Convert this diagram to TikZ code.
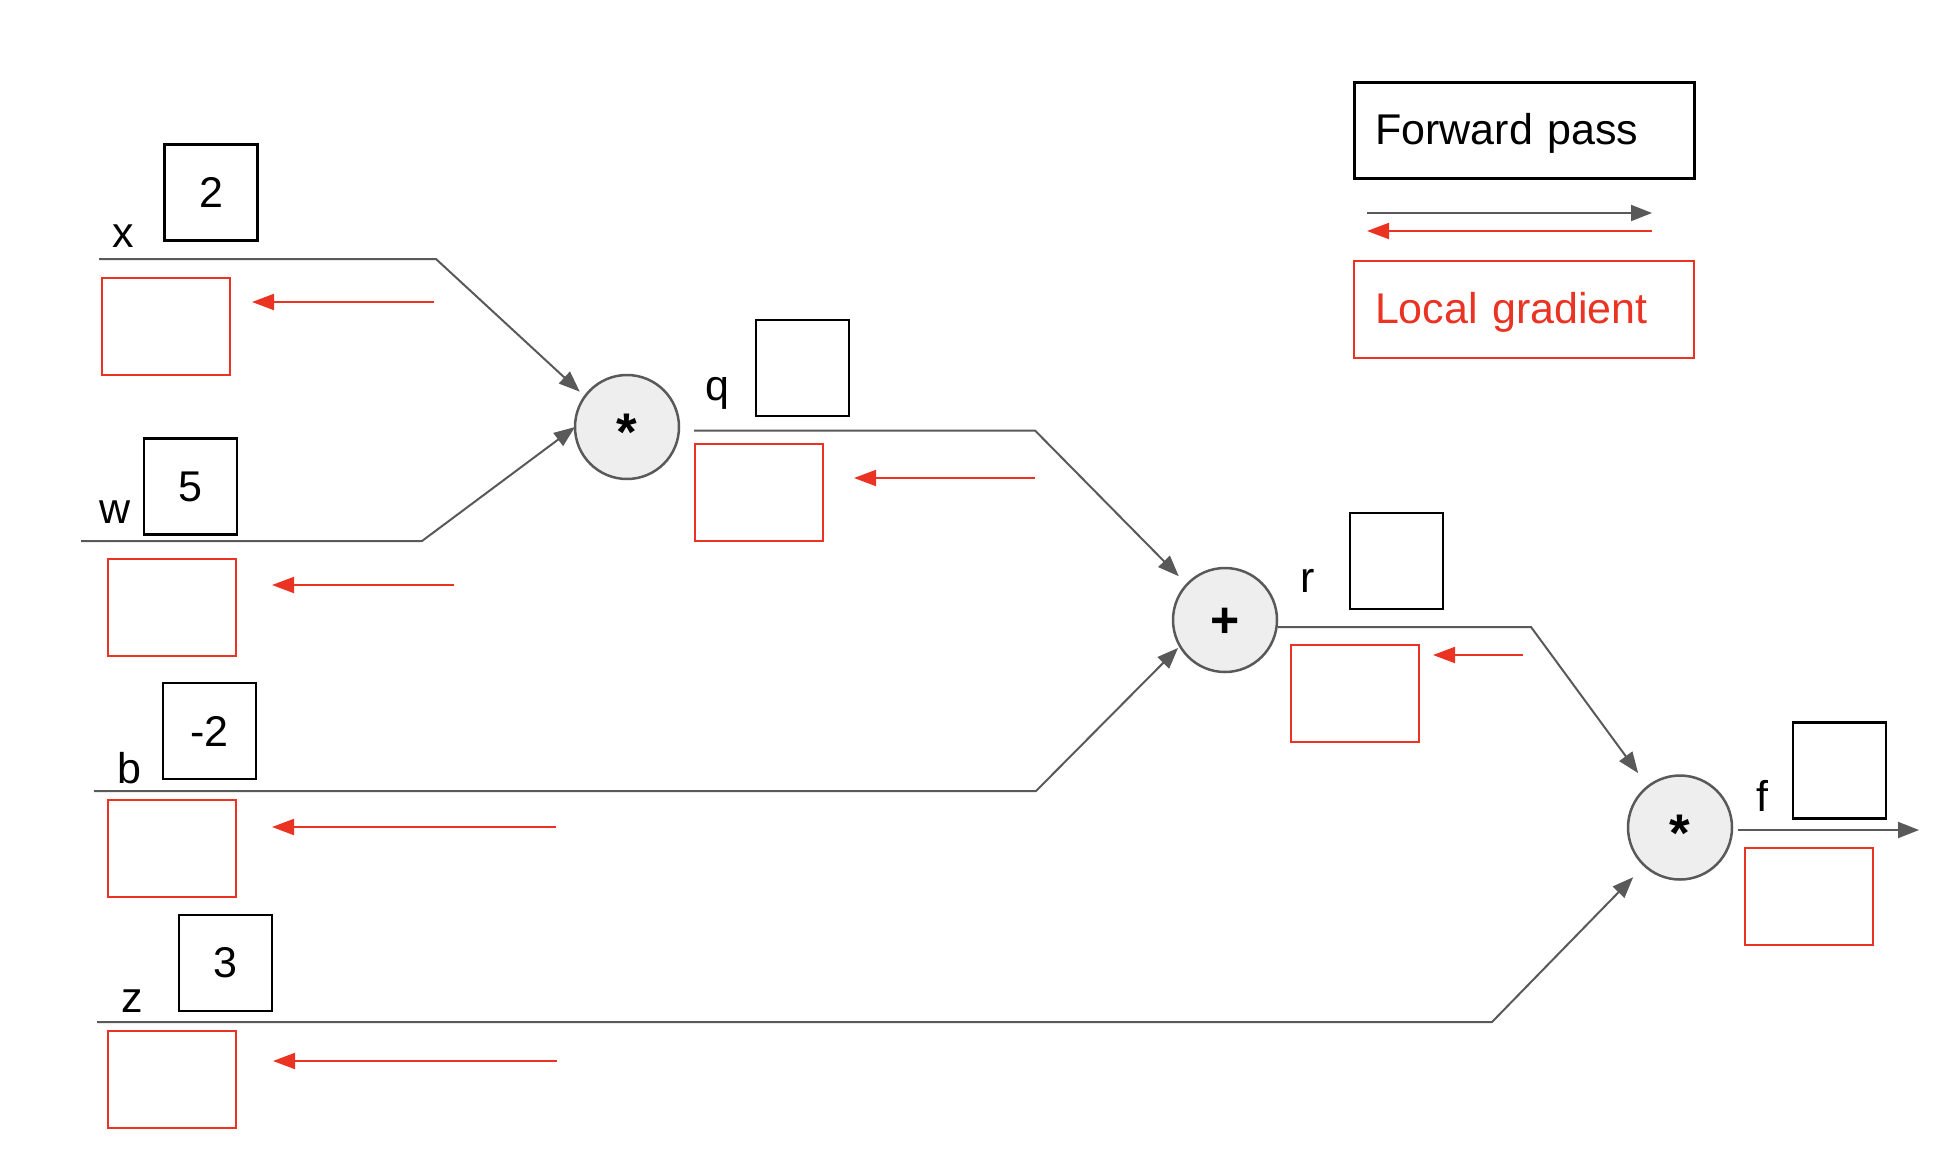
\documentclass[tikz,border=0pt]{standalone}
\usepackage{fontspec}
\setmainfont{Liberation Sans}
\usetikzlibrary{arrows.meta}
\definecolor{fwdgray}{HTML}{595959}
\definecolor{gred}{HTML}{EA3323}
\definecolor{opfill}{HTML}{EEEEEE}
\begin{document}
\begin{tikzpicture}[x=1pt,y=-1pt,
  font=\fontsize{43}{50}\selectfont,
  valbox/.style={draw=black, line width=2.5pt, minimum width=93pt, minimum height=96pt, inner sep=0pt},
  gradbox/.style={draw=gred, line width=2pt, minimum width=128pt, minimum height=97pt, inner sep=0pt},
  opnode/.style={circle, draw=fwdgray, fill=opfill, line width=2.5pt, minimum size=104pt, inner sep=0pt, outer sep=0pt},
  fwdline/.style={draw=fwdgray, line width=2pt, line join=miter, -{Triangle[length=21pt,width=16pt]}},
  gradarrow/.style={draw=gred, line width=2pt, -{Triangle[length=22pt,width=16pt]}},
  varlabel/.style={anchor=base, inner sep=0pt},
  legbox/.style={line width=2.5pt, minimum width=340pt, minimum height=96pt, text width=298pt, align=left, inner xsep=21pt, inner ysep=0pt, text height=36pt, text depth=8pt, anchor=north west}
]
\useasboundingbox (0,0) rectangle (1946,1152);

% operator nodes
\node[opnode, text height=47pt, text depth=0pt, font=\fontsize{53}{56}\selectfont\bfseries] (m1) at (627,427) {*};
\node[opnode, text height=35pt, text depth=0pt, font=\fontsize{50}{50}\selectfont\bfseries] (pl) at (1225,620) {+};
\node[opnode, text height=47pt, text depth=0pt, font=\fontsize{53}{56}\selectfont\bfseries] (m2) at (1680,827.5) {*};

% variable labels
\node[varlabel] (lx) at (123,247) {x};
\node[varlabel] (lw) at (115,523) {w};
\node[varlabel] (lb) at (129,783) {b};
\node[varlabel] (lz) at (132,1012) {z};
\node[varlabel] (lq) at (717,400) {q};
\node[varlabel] (lr) at (1308,592) {r};
\node[varlabel] (lf) at (1762,811) {f};

% value boxes
\node[valbox] (vx) at (211,192.5) {2};
\node[valbox] (vw) at (190.5,486.5) {5};
\node[valbox] (vb) at (209.5,731) {-2};
\node[valbox] (vz) at (225.5,963) {3};
\node[valbox] (vq) at (802.5,368) {};
\node[valbox] (vr) at (1396.5,561) {};
\node[valbox] (vf) at (1839.5,770.5) {};

% gradient boxes
\node[gradbox] (gx) at (166,326.5) {};
\node[gradbox] (gw) at (172,607.5) {};
\node[gradbox] (gb) at (172,848) {};
\node[gradbox] (gz) at (172,1079) {};
\node[gradbox] (gq) at (759,492.5) {};
\node[gradbox] (gr) at (1354.5,693) {};
\node[gradbox] (gf) at (1809,896.5) {};

% forward lines
\coordinate (xs) at (99,259);    \coordinate (xk) at (436,259);
\coordinate (ws) at (81,541);    \coordinate (wk) at (422,541);
\coordinate (bs) at (94,791);    \coordinate (bk) at (1036,791);
\coordinate (zs) at (97,1022);   \coordinate (zk) at (1492,1022);
\coordinate (qs) at (694,430.5); \coordinate (qk) at (1035,430.5);
\coordinate (rs) at (1278,627);  \coordinate (rk) at (1531,627);
\coordinate (fs) at (1738,830);  \coordinate (fe) at (1919,830);

\draw[fwdline, shorten >=7pt] (xs) -- (xk) -- (m1.144);
\draw[fwdline] (ws) -- (wk) -- (m1.west);
\draw[fwdline, shorten >=11.7pt] (qs) -- (qk) -- (pl.137.5);
\draw[fwdline, shorten >=2.7pt] (bs) -- (bk) -- (pl.210.8);
\draw[fwdline, shorten >=16.6pt] (rs) -- (rk) -- (m2.128.8);
\draw[fwdline, shorten >=16.3pt] (zs) -- (zk) -- (m2.227.7);
\draw[fwdline] (fs) -- (fe);

% gradient arrows
\coordinate (gxa) at (434,302);   \coordinate (gxb) at (252,302);
\coordinate (gwa) at (454,585);   \coordinate (gwb) at (272,585);
\coordinate (gba) at (556,827);   \coordinate (gbb) at (272,827);
\coordinate (gza) at (557,1061);  \coordinate (gzb) at (273,1061);
\coordinate (gqa) at (1035,478);  \coordinate (gqb) at (854,478);
\coordinate (gra) at (1523,655);  \coordinate (grb) at (1433,655);
\draw[gradarrow] (gxa) -- (gxb);
\draw[gradarrow] (gwa) -- (gwb);
\draw[gradarrow] (gba) -- (gbb);
\draw[gradarrow] (gza) -- (gzb);
\draw[gradarrow] (gqa) -- (gqb);
\draw[gradarrow] (gra) -- (grb);

% legend
\node[legbox, draw=black] (legf) at (1353,81) {Forward pass};
\node[legbox, draw=gred, text=gred, line width=2pt, minimum height=97pt] (legg) at (1353,260) {Local gradient};
\coordinate (lga) at (1367,213); \coordinate (lgb) at (1652,213);
\coordinate (lgc) at (1652,231); \coordinate (lgd) at (1367,231);
\draw[fwdline] (lga) -- (lgb);
\draw[gradarrow] (lgc) -- (lgd);
\end{tikzpicture}
\end{document}
